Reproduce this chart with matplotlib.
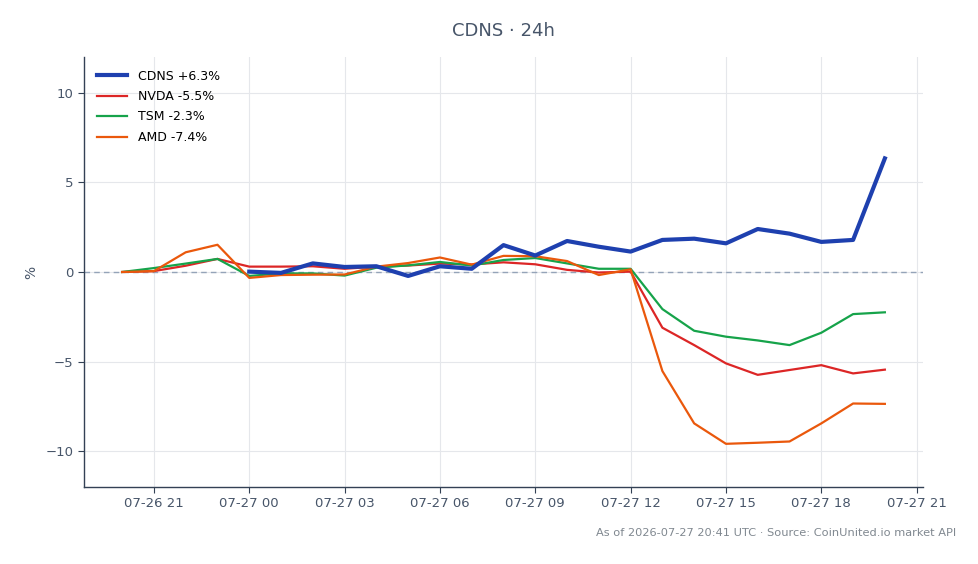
import numpy as np
import pandas as pd
import matplotlib
matplotlib.use("Agg")
import matplotlib.pyplot as plt
import matplotlib.dates as mdates

times = pd.date_range("2026-07-26 20:00", "2026-07-27 20:00", freq="h")
nan = np.nan
cdns = [nan, nan, nan, nan, 0.02, -0.05, 0.48, 0.28, 0.32, -0.22, 0.32, 0.18, 1.5, 0.92,
        1.73, 1.41, 1.14, 1.79, 1.86, 1.6, 2.4, 2.14, 1.68, 1.79, 6.34]
nvda = [0, 0.05, 0.35, 0.73, 0.3, 0.3, 0.32, 0.18, 0.3, 0.36, 0.47, 0.42, 0.54, 0.43,
        0.12, -0.03, 0.02, -3.11, -4.08, -5.1, -5.74, -5.47, -5.2, -5.66, -5.45]
tsm = [0, 0.22, 0.47, 0.73, -0.22, -0.08, -0.08, -0.2, 0.24, 0.37, 0.56, 0.36, 0.67, 0.78,
       0.48, 0.18, 0.18, -2.07, -3.28, -3.61, -3.82, -4.08, -3.39, -2.35, -2.25]
amd = [0, 0.05, 1.1, 1.52, -0.33, -0.17, -0.15, -0.14, 0.3, 0.5, 0.81, 0.41, 0.9, 0.88,
       0.61, -0.17, 0.15, -5.53, -8.45, -9.59, -9.53, -9.46, -8.45, -7.34, -7.36]

labels = ["CDNS +6.3%", "NVDA -5.5%", "TSM -2.3%", "AMD -7.4%"]
colors = ["#1e40af", "#dc2626", "#16a34a", "#ea580c"]
widths = [3.0, 1.6, 1.6, 1.6]
title = "CDNS · 24h"
footer = "As of 2026-07-27 20:41 UTC · Source: CoinUnited.io market API"

plt.rcParams['font.family'] = ['DejaVu Sans']
fig = plt.figure(figsize=(9.79, 5.64), dpi=100)
ax = fig.add_axes([84/979, 1-487/564, (923-84)/979, (487-57)/564])

for series, lab, c, w in zip([cdns, nvda, tsm, amd], labels, colors, widths):
    ax.plot(times, series, color=c, lw=w, label=lab, zorder=3 if lab.startswith("CDNS") else 2)

ax.axhline(0, color="#94a3b8", lw=1, ls=(0, (4, 3)), zorder=1)
ax.set_ylim(-12, 12)
ax.set_yticks([-10, -5, 0, 5, 10])
ax.xaxis.set_major_locator(mdates.HourLocator(byhour=range(0, 24, 3)))
ax.xaxis.set_major_formatter(mdates.DateFormatter("%m-%d %H"))
ax.margins(x=0.05)

ax.grid(True, color="#e5e7eb", lw=0.8)
ax.set_axisbelow(True)
for s in ["top", "right"]:
    ax.spines[s].set_visible(False)
for s in ["left", "bottom"]:
    ax.spines[s].set_color("#334155")
    ax.spines[s].set_linewidth(1.0)
ax.tick_params(colors="#334155", labelcolor="#475569", labelsize=9.5, length=4)
ax.set_ylabel("%", color="#475569", fontsize=10, labelpad=5)

leg = ax.legend(loc="upper left", frameon=False, fontsize=9, handlelength=2.4,
                borderaxespad=0.6, labelspacing=0.6, handletextpad=0.9)

fig.text(503/979, 1-31/564, title, ha="center", va="center", fontsize=13, color="#475569")
fig.text(956/979, 1-533/564, footer, ha="right", va="center", fontsize=8.2, color="#808890")

fig.savefig("out.png", dpi=100)
